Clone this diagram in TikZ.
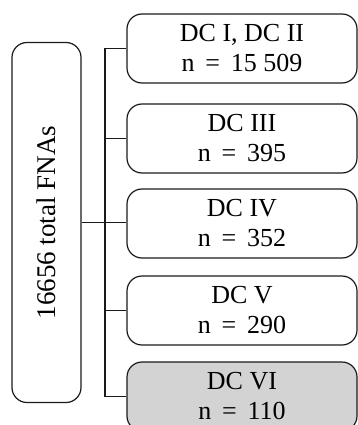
\documentclass[tikz,border=0pt]{standalone}
\usepackage{fontspec}
\setmainfont{Liberation Serif}
\usepackage{tikz}
\usetikzlibrary{positioning}
\definecolor{ink}{HTML}{1a1a1a}
\definecolor{shade}{HTML}{d3d3d3}

\begin{document}
\begin{tikzpicture}[x=1pt,y=-1pt,line width=1.2pt,
  box/.style={draw=ink,rounded corners=15pt,align=center,inner sep=0pt,
    minimum width=230pt,minimum height=69pt,
    font=\fontsize{26}{30}\selectfont},
  total/.style={draw=ink,rounded corners=15pt,rotate=90,inner sep=0pt,
    minimum width=360pt,minimum height=69pt,
    font=\fontsize{27}{30}\selectfont}]
  \useasboundingbox (0,0) rectangle (358,425);
  % total
  \node[total] (tot) at (46.5,222.5) {16656 total FNAs};
  % classes
  \node[box] (c1) at (242,48.5) {DC I, DC II\\n\, = \,15 509};
  \node[box] (c2) at (242,138.5) {DC III\\n\, = \,395};
  \node[box] (c3) at (242,223.5) {DC IV\\n\, = \,352};
  \node[box] (c4) at (242,310.5) {DC V\\n\, = \,290};
  \node[box,fill=shade] (c5) at (242,396.5) {DC VI\\n\, = \,110};
  % tree
  \coordinate (split) at (105,222.5);
  \draw[ink] (tot.south) -- (tot.south -| c3.west);
  \draw[ink] (c1.west) -| (split) |- (c5.west);
  \draw[ink] (c2.west) -- (c2.west -| split);
  \draw[ink] (c4.west) -- (c4.west -| split);
\end{tikzpicture}
\end{document}
